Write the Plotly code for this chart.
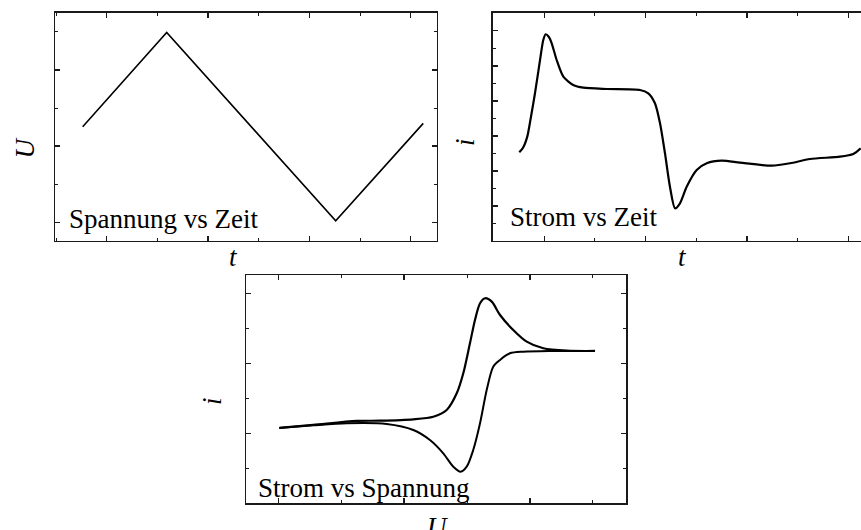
import plotly.graph_objects as go

# ---------------- data ----------------
# Panel 1: Spannung vs Zeit  (triangular potential sweep)
t_u = [0.763, 1.592, 3.260, 4.124]
u_t = [1.255, 2.493, 0.021, 1.299]

# Panel 2: Strom vs Zeit
t_i = [0.753, 0.790, 0.832, 0.866, 0.908, 0.958, 0.990, 1.014, 1.045, 1.073,
       1.122, 1.188, 1.286, 1.385, 1.616, 1.944, 2.026, 2.092, 2.142, 2.191,
       2.240, 2.290, 2.339, 2.405, 2.504, 2.603, 2.751, 2.931, 3.244, 3.425,
       3.622, 3.918, 4.049, 4.122]
i_t = [1.532, 1.660, 1.977, 2.501, 3.214, 4.164, 4.734, 4.897, 4.820, 4.641,
       4.164, 3.688, 3.451, 3.374, 3.337, 3.309, 3.214, 2.929, 2.359, 1.503,
       0.550, -0.066, 0.077, 0.550, 1.027, 1.218, 1.292, 1.235, 1.149, 1.218,
       1.341, 1.406, 1.483, 1.646]

# Panel 3: Strom vs Spannung (cyclic voltammogram), forward and reverse sweep
u_fwd = [0.008, 0.278, 0.623, 0.808, 1.073, 1.232, 1.338, 1.418, 1.470, 1.523,
         1.563, 1.603, 1.643, 1.696, 1.762, 1.867, 1.974, 2.106, 2.292, 2.517]
i_fwd = [0.076, 0.119, 0.176, 0.180, 0.200, 0.237, 0.333, 0.571, 0.857, 1.286,
         1.619, 1.857, 1.929, 1.880, 1.690, 1.476, 1.309, 1.214, 1.180, 1.176]
u_rev = [2.517, 2.159, 1.947, 1.841, 1.762, 1.708, 1.656, 1.603, 1.549, 1.497,
         1.449, 1.391, 1.311, 1.205, 1.073, 0.861, 0.543, 0.278, 0.008]
i_rev = [1.176, 1.176, 1.166, 1.143, 1.047, 0.951, 0.619, 0.143, -0.239, -0.477,
         -0.549, -0.477, -0.286, -0.096, 0.047, 0.133, 0.143, 0.114, 0.076]

panel_titles = ["Spannung vs Zeit", "Strom vs Zeit", "Strom vs Spannung"]
axis_titles = [("t", "U"), ("t", "i"), ("U", "i")]

# ---------------- layout helpers ----------------
W, H = 861, 530


def xd(a, b):
    return [a / W, min(b / W, 1.0)]


def yd(top, bottom):
    return [1 - bottom / H, 1 - top / H]


LINE = "#1a1a1a"
FONT = "Liberation Serif, Times New Roman, Times, DejaVu Serif, serif"


def axis(domain, rng, tick0, mirror=True, anchor=None):
    d = dict(domain=domain, range=rng, showgrid=False, zeroline=False,
             showticklabels=False, showline=True, linecolor=LINE, linewidth=1.5,
             ticks="inside", ticklen=5, tickwidth=1.5, tickcolor=LINE,
             tick0=tick0, dtick=1,
             minor=dict(ticks="inside", ticklen=3, tickwidth=1, tickcolor=LINE,
                        tick0=tick0, dtick=0.5),
             mirror="ticks" if mirror else False, fixedrange=True)
    if anchor:
        d["anchor"] = anchor
    return d


fig = go.Figure()

fig.add_trace(go.Scatter(x=t_u, y=u_t, mode="lines", xaxis="x", yaxis="y",
                         line=dict(color="black", width=1.6)))
fig.add_trace(go.Scatter(x=t_i, y=i_t, mode="lines", xaxis="x2", yaxis="y2",
                         line=dict(color="black", width=2.2, shape="spline", smoothing=0.7)))
fig.add_trace(go.Scatter(x=u_fwd, y=i_fwd, mode="lines", xaxis="x3", yaxis="y3",
                         line=dict(color="black", width=2.2, shape="spline", smoothing=0.8)))
fig.add_trace(go.Scatter(x=u_rev, y=i_rev, mode="lines", xaxis="x3", yaxis="y3",
                         line=dict(color="black", width=2.0, shape="spline", smoothing=0.8)))

fig.update_layout(
    width=W, height=H, margin=dict(l=0, r=0, t=0, b=0),
    paper_bgcolor="white", plot_bgcolor="white", showlegend=False,
    hovermode=False,
    font=dict(family=FONT, size=27, color="black"),
    xaxis=axis(xd(55, 436.7), [0.4898, 4.2567], 1, anchor="y"),
    yaxis=axis(yd(12.7, 240.7), [-0.2416, 2.7525], 0, anchor="x"),
    xaxis2=axis(xd(492.7, 861), [0.4908, 4.1254], 1, anchor="y2"),
    yaxis2=axis(yd(12.7, 240.7), [-0.99, 5.513], 0, mirror=False, anchor="x2"),
    xaxis3=axis(xd(246, 626), [-0.2567, 2.763], 0, anchor="y3"),
    yaxis3=axis(yd(275, 503.3), [-1.0, 2.261], 0, anchor="x3"),
)

# panel titles inside the plots (lower left)
title_pos = [(66.5, 219.2), (507.5, 216.6), (255.5, 488.2)]
for txt, (px, py) in zip(panel_titles, title_pos):
    fig.add_annotation(text=txt, xref="paper", yref="paper", x=px / W, y=1 - py / H,
                       xanchor="left", yanchor="middle", showarrow=False,
                       font=dict(family=FONT, size=27, color="black"))

# axis titles (italic)
xlab_pos = [(233.3, 257.0), (682.3, 257.0), (437.5, 527.0)]
ylab_pos = [(24.0, 148.5), (465.0, 142.0), (212.0, 401.0)]
for (xt, yt), (xp, yp), (qx, qy) in zip(axis_titles, xlab_pos, ylab_pos):
    fig.add_annotation(text=f"<i>{xt}</i>", xref="paper", yref="paper",
                       x=xp / W, y=1 - yp / H, xanchor="center", yanchor="middle",
                       showarrow=False, font=dict(family=FONT, size=27, color="black"))
    fig.add_annotation(text=f"<i>{yt}</i>", xref="paper", yref="paper",
                       x=qx / W, y=1 - qy / H, xanchor="center", yanchor="middle",
                       textangle=-90, showarrow=False,
                       font=dict(family=FONT, size=27, color="black"))

fig.write_html("out.html",
               config={"displayModeBar": False, "staticPlot": True},
               post_script="document.body.style.margin='0';document.body.style.overflow='hidden';")
